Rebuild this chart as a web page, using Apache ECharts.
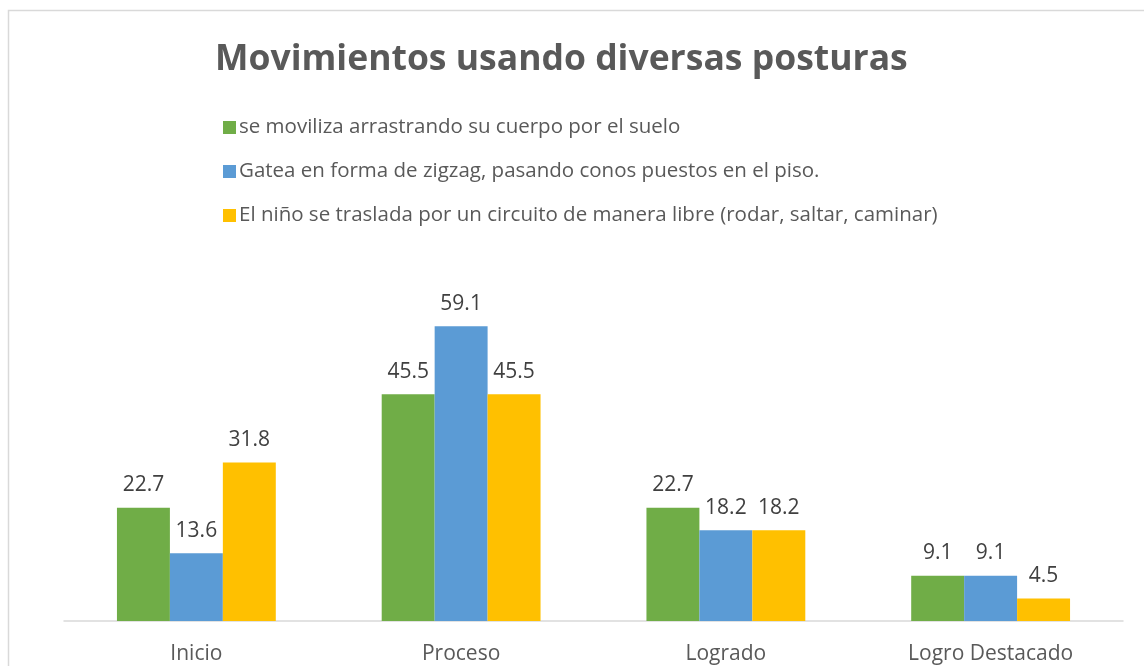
<!DOCTYPE html>
<html>
<head>
<meta charset="utf-8">
<script src="https://cdn.jsdelivr.net/npm/echarts@6/dist/echarts.min.js"></script>
<style>
  html, body { margin: 0; padding: 0; background: #fff; }
  #chart { width: 1144px; height: 666px; }
</style>
</head>
<body>
<div id="chart"></div>
<script>
  // categorias del eje x
  const categories = ['Inicio', 'Proceso', 'Logrado', 'Logro Destacado']
  // nombres de las series
  const seriesNames = [
    'se moviliza arrastrando su cuerpo por el suelo',
    'Gatea en forma de zigzag, pasando conos puestos en el piso.',
    'El niño se traslada por un circuito de manera libre (rodar, saltar, caminar)'
  ]
  const arrastrando = [22.7, 45.5, 22.7, 9.1]
  const gatea = [13.6, 59.1, 18.2, 9.1]
  const circuito = [31.8, 45.5, 18.2, 4.5]
  const colors = ['#70AD47', '#5B9BD5', '#FFC000']

  const font = '"Open Sans", "Noto Sans", sans-serif'
  const chart = echarts.init(document.getElementById('chart'))

  const seriesData = [arrastrando, gatea, circuito]
  const seriesArr = seriesData.map((data, i) => ({
    name: seriesNames[i],
    type: 'bar',
    data: data,
    barGap: '0%',
    barCategoryGap: '40%',
    itemStyle: { color: colors[i] },
    label: {
      show: true,
      position: 'top',
      distance: 12,
      color: '#404040',
      fontSize: 21,
      fontFamily: font
    }
  }))

  chart.setOption({
    animation: false,
    title: {
      text: 'Movimientos usando diversas posturas',
      left: 210,
      top: 37,
      textStyle: {
        color: '#595959',
        fontSize: 35.5,
        fontWeight: 'bold',
        fontFamily: font
      }
    },
    legend: {
      orient: 'vertical',
      left: 218,
      top: 112,
      itemGap: 23,
      itemWidth: 13,
      itemHeight: 13,
      icon: 'rect',
      data: seriesNames,
      textStyle: {
        color: '#595959',
        fontSize: 20.5,
        fontFamily: font,
        padding: [0, 0, 0, -2]
      }
    },
    graphic: [{
      type: 'rect',
      shape: { x: 8.5, y: 10.5, width: 1200, height: 700 },
      style: { fill: 'none', stroke: '#d9d9d9', lineWidth: 1.5 },
      silent: true
    }],
    grid: {
      left: 64,
      right: 21,
      top: 272,
      bottom: 45,
      containLabel: false
    },
    xAxis: {
      type: 'category',
      data: categories,
      axisLine: { lineStyle: { color: '#d9d9d9', width: 1.5 } },
      axisTick: { show: false },
      axisLabel: {
        color: '#595959',
        fontSize: 21,
        fontFamily: font,
        margin: 23
      }
    },
    yAxis: {
      type: 'value',
      min: 0,
      max: 70,
      show: false,
      splitLine: { show: false }
    },
    series: seriesArr
  })
</script>
</body>
</html>
